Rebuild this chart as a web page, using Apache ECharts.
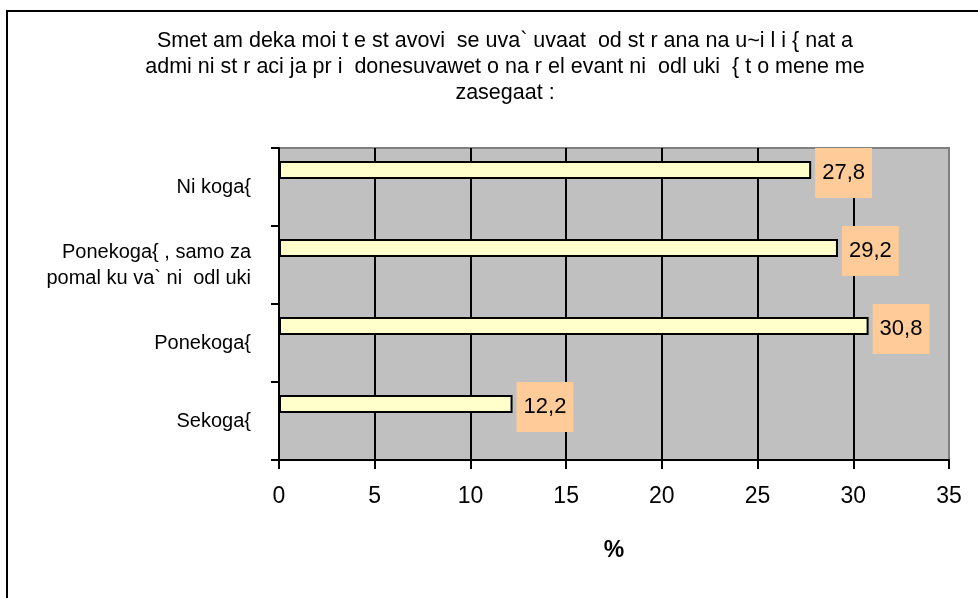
<!DOCTYPE html>
<html>
<head>
<meta charset="utf-8">
<script src="https://cdn.jsdelivr.net/npm/echarts@6/dist/echarts.min.js"></script>
<style>
html,body{margin:0;padding:0;background:#fff;}
#chart{width:978px;height:598px;}
</style>
</head>
<body>
<div id="chart"></div>
<script>
var categories = ['Ni koga{', 'Ponekoga{ , samo za\npomal ku va` ni  odl uki', 'Ponekoga{', 'Sekoga{'];
var values = [27.8, 29.2, 30.8, 12.2];
var valueLabels = ['27,8', '29,2', '30,8', '12,2'];
var xTicks = [0, 5, 10, 15, 20, 25, 30, 35];
var titleLines = [
  'Smet am deka moi t e st avovi  se uva` uvaat  od st r ana na u~i l i { nat a',
  'admi ni st r aci ja pr i  donesuvawet o na r el evant ni  odl uki  { t o mene me',
  'zasegaat :'
];
var axisName = '%';

var chart = echarts.init(document.getElementById('chart'), null, {renderer: 'canvas'});
var font = 'Arial, "Liberation Sans", sans-serif';
var option = {
  animation: false,
  backgroundColor: '#ffffff',
  textStyle: {fontFamily: font},
  title: {
    text: titleLines.join('\n'),
    left: 500,
    top: 23,
    textAlign: 'center',
    textStyle: {fontFamily: font, fontSize: 21.5, fontWeight: 'normal', color: '#000', lineHeight: 26}
  },
  graphic: [{
    type: 'rect',
    shape: {x: 7, y: 11, width: 1100, height: 1100},
    style: {fill: 'none', stroke: '#000', lineWidth: 2},
    silent: true
  }],
  grid: {
    left: 279, right: 29, top: 148, bottom: 138,
    show: true, backgroundColor: '#C0C0C0', borderColor: '#808080', borderWidth: 2
  },
  xAxis: {
    type: 'value', min: xTicks[0], max: xTicks[xTicks.length - 1], interval: xTicks[1] - xTicks[0],
    name: axisName, nameLocation: 'middle', nameGap: 79,
    nameTextStyle: {fontFamily: font, fontSize: 23, fontWeight: 'bold', color: '#000'},
    axisLine: {show: true, onZero: false, lineStyle: {color: '#000', width: 2}},
    axisTick: {show: true, length: 9, lineStyle: {color: '#000', width: 2}},
    axisLabel: {fontFamily: font, fontSize: 23, color: '#000', margin: 25},
    splitLine: {show: true, lineStyle: {color: ['#000','#000','#000','#000','#000','#000','#000','#808080'], width: 2}}
  },
  yAxis: {
    type: 'category', data: categories, inverse: true,
    axisLine: {show: true, lineStyle: {color: '#000', width: 2}},
    axisTick: {show: true, length: 8, lineStyle: {color: '#000', width: 2}},
    axisLabel: {fontFamily: font, fontSize: 20, color: '#000', margin: 28, lineHeight: 26, align: 'right', verticalAlign: 'middle', padding: [0, 0, 4, 0]},
    splitLine: {show: false}
  },
  series: [{
    type: 'bar',
    data: values,
    barWidth: 18,
    barGap: '89%',
    itemStyle: {color: '#FFFFCC', borderColor: '#000', borderWidth: 2},
    label: {
      show: true, position: 'right', distance: 4, offset: [0, 3],
      formatter: function (p) { return valueLabels[p.dataIndex]; },
      fontFamily: font, fontSize: 22, color: '#000',
      backgroundColor: '#FFCC99', padding: [5, 7, 23, 7]
    },
    z: 5
  }, {
    type: 'bar',
    data: values.map(function () { return null; }),
    barWidth: 18,
    silent: true
  }]
};
chart.setOption(option);
</script>
</body>
</html>
